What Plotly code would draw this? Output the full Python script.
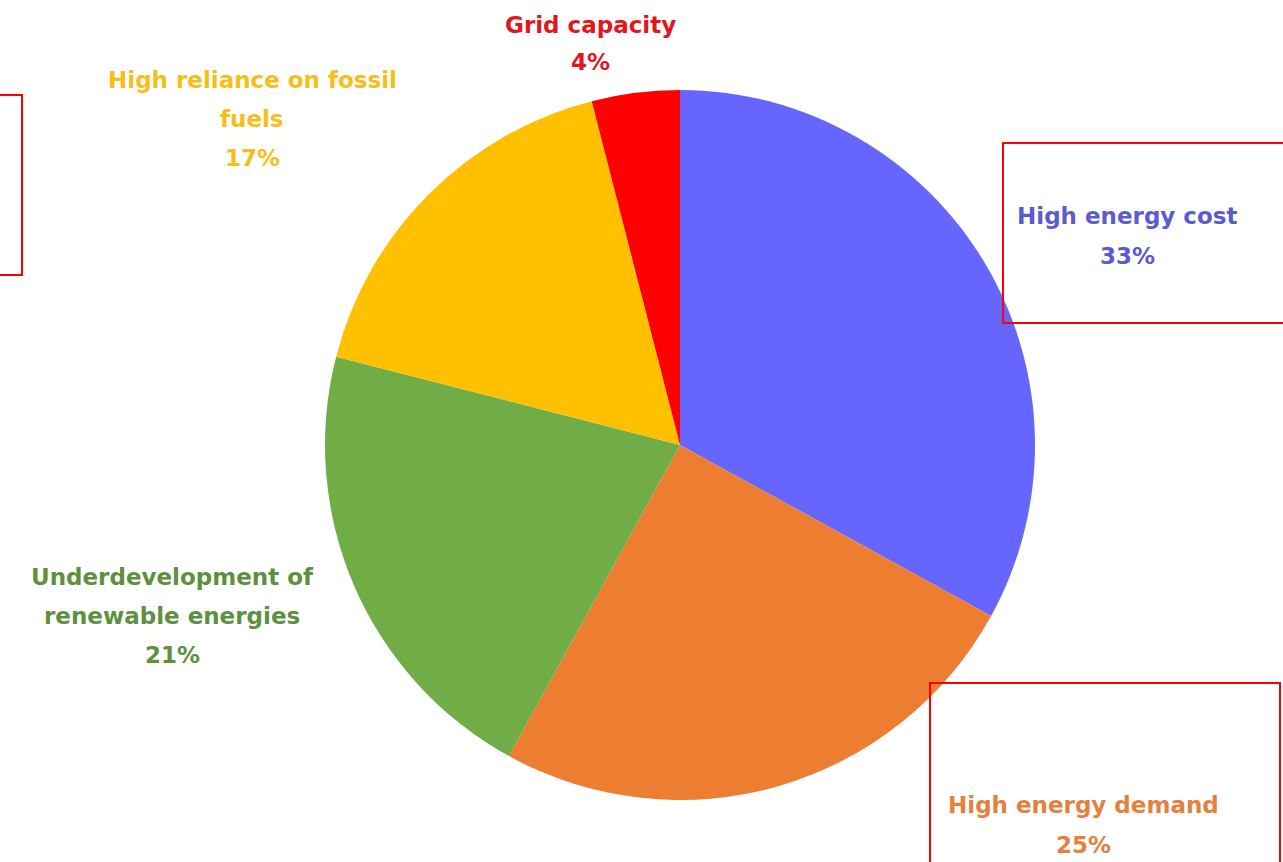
import plotly.graph_objects as go

# ---- data ----
categories = ["High energy cost", "High energy demand", "Underdevelopment of renewable energies",
              "High reliance on fossil fuels", "Grid capacity"]
values = [33, 25, 21, 17, 4]
slice_colors = ["#6666FF", "#ED7D31", "#70AD47", "#FFC000", "#FF0000"]
text_colors = ["#5B5BD0", "#E4813F", "#5E9040", "#F7BE1A", "#E3161E"]
# label lines as shown (category wrapped + percentage)
label_lines = [
    ["High energy cost"],
    ["High energy demand"],
    ["Underdevelopment of", "renewable energies"],
    ["High reliance on fossil", "fuels"],
    ["Grid capacity"],
]

W, H = 1283, 862

def px(x):
    return x / W

def py(y):
    return 1 - y / H

# label anchor: (center x, first line y, line step)
label_pos = [
    (1127, 216, 40),
    (1083, 805, 40),
    (172, 577, 39),
    (252, 80, 39),
    (590, 25, 37),
]

fig = go.Figure(go.Pie(
    labels=categories,
    values=values,
    sort=False,
    direction="clockwise",
    rotation=0,
    marker=dict(colors=slice_colors, line=dict(width=0)),
    textinfo="none",
    hoverinfo="label+percent",
    domain=dict(x=[px(325), px(1035)], y=[py(800), py(90)]),
    showlegend=False,
))

annotations = []
total = sum(values)
for i, lines in enumerate(label_lines):
    cx, y0, step = label_pos[i]
    all_lines = lines + [f"{round(values[i] / total * 100)}%"]
    for j, t in enumerate(all_lines):
        annotations.append(dict(
            x=px(cx), y=py(y0 + j * step), xref="paper", yref="paper",
            text=t, showarrow=False, xanchor="center", yanchor="middle",
            font=dict(family="DejaVu Sans", size=23, color=text_colors[i], weight="bold"),
        ))

shapes = [
    dict(type="rect", xref="paper", yref="paper",
         x0=px(-10), x1=px(22), y0=py(275), y1=py(95),
         line=dict(color="#FF0000", width=2)),
    dict(type="rect", xref="paper", yref="paper",
         x0=px(1003), x1=px(1295), y0=py(323), y1=py(143),
         line=dict(color="#FF0000", width=2)),
    dict(type="rect", xref="paper", yref="paper",
         x0=px(930), x1=px(1280), y0=py(875), y1=py(683),
         line=dict(color="#FF0000", width=2)),
]

fig.update_layout(
    width=W, height=H,
    margin=dict(l=0, r=0, t=0, b=0),
    paper_bgcolor="white",
    plot_bgcolor="white",
    annotations=annotations,
    shapes=shapes,
)

fig.write_html("out.html", config={"displayModeBar": False},
               post_script="document.body.style.margin='0';document.body.style.overflow='hidden';")
